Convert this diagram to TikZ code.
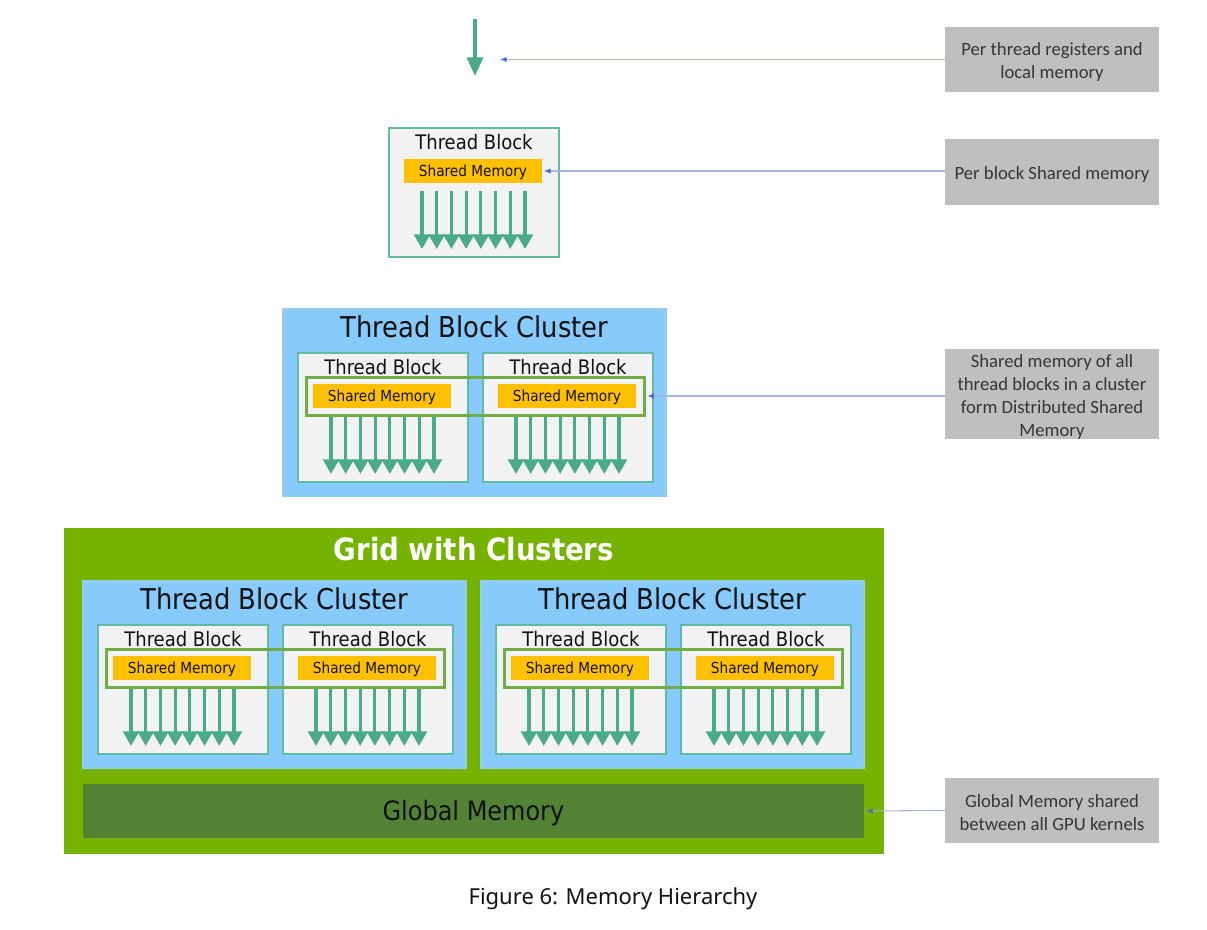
\documentclass[tikz,border=0pt]{standalone}
\usepackage{fontspec}
\setmainfont{DejaVu Sans Condensed}
\newfontfamily\calfont{Carlito}
\newfontfamily\capfont{Noto Sans}
\usetikzlibrary{arrows.meta,calc}
\newlength\pxu \setlength\pxu{0.75pt}
\newcommand\gtop{\rule{0pt}{13.5pt}}
\definecolor{gridgreen}{RGB}{118,178,0}
\definecolor{globalgreen}{RGB}{84,130,53}
\definecolor{clusterblue}{RGB}{135,202,252}
\definecolor{clusteredge}{RGB}{150,205,235}
\definecolor{tbfill}{RGB}{242,242,242}
\definecolor{tbedge}{RGB}{100,185,165}
\definecolor{smorange}{RGB}{255,192,0}
\definecolor{dsmgreen}{RGB}{112,173,71}
\definecolor{thrcol}{RGB}{73,170,140}
\definecolor{gboxfill}{RGB}{191,191,191}
\definecolor{connline}{RGB}{165,182,215}
\definecolor{connhead}{RGB}{68,114,196}
\definecolor{txt}{RGB}{17,17,17}
\tikzset{
  tblock/.style={draw=tbedge, line width=1pt, fill=tbfill, minimum width=170*\pxu,
    minimum height=129*\pxu, anchor=north west, inner sep=0pt, outer sep=0pt},
  tbtitle/.style={font=\fontsize{15}{17}\selectfont, text=txt, inner sep=0pt,
    text height=11pt, text depth=0pt},
  smem/.style={fill=smorange, anchor=north west, minimum width=138*\pxu,
    minimum height=24*\pxu, inner sep=0pt, outer sep=0pt, text=txt,
    font=\fontsize{11.4}{13}\selectfont, text height=8.3pt, text depth=0pt},
  thr/.style={draw=thrcol, line width=2.4pt, -{Triangle[width=11.8pt,length=11pt]}},
  bigthr/.style={draw=thrcol, line width=2.4pt, -{Triangle[width=12pt,length=14pt]}},
  clus/.style={draw=clusteredge, line width=0.8pt, fill=clusterblue, minimum width=383*\pxu,
    minimum height=187*\pxu, anchor=north west, inner sep=0pt, outer sep=0pt},
  cltitle/.style={font=\fontsize{21.5}{24}\selectfont, text=txt, inner sep=0pt,
    text height=15.7pt, text depth=0pt},
  dsm/.style={draw=dsmgreen, line width=2.25pt, minimum width=338*\pxu,
    minimum height=38*\pxu, anchor=north west, inner sep=0pt, outer sep=0pt},
  gridbox/.style={fill=gridgreen, minimum width=820*\pxu, minimum height=326*\pxu,
    anchor=north west, inner sep=0pt, outer sep=0pt},
  gridtitle/.style={font=\bfseries\fontsize{23}{26}\selectfont, text=white, inner sep=0pt,
    text height=16.8pt, text depth=0pt},
  gmem/.style={fill=globalgreen, minimum width=781*\pxu, minimum height=54*\pxu,
    inner sep=0pt, outer sep=0pt, text=txt, font=\fontsize{20}{23}\selectfont,
    text height=14.6pt, text depth=0pt},
  gbox/.style={fill=gboxfill, minimum width=214*\pxu, inner sep=0pt, outer sep=0pt,
    align=center, text=txt!85, font=\calfont\fontsize{14}{17.25}\selectfont},
  conn/.style={draw=connline, line width=0.8pt,
    -{Latex[length=5pt,width=4pt,color=connhead]}, shorten >=1.5pt},
  caption/.style={font=\capfont\fontsize{16.5}{19}\selectfont, text=txt, inner sep=0pt}
}
\newcommand\tblk[3]{%
  \node[tblock] (#1) at (#2,#3) {};
  \node[tbtitle] at ($(#1.north)+(0,14)$) {Thread Block};
  \node[smem] (#1-sm) at ($(#1.north west)+(15,31)$) {Shared Memory};
  \foreach \k in {0,...,7}{%
    \draw[thr] ($(#1.north west)+(33+\k*14.714,63)$) -- ++(0,58);}
}
\newcommand\tcluster[3]{%
  \node[clus] (#1) at (#2,#3) {};
  \node[cltitle] at ($(#1.north)+(0,18.5)$) {Thread Block Cluster};
  \tblk{#1-a}{#2+15}{#3+44}
  \tblk{#1-b}{#2+200}{#3+44}
  \node[dsm] (#1-dsm) at ($(#1-a.north west)+(8,24)$) {};
}
\begin{document}
\begin{tikzpicture}[x=0.75pt,y=-0.75pt]
\fill[white] (0,0) rectangle (1207,929);
\useasboundingbox (0,0) rectangle (1207,929);
% single thread
\coordinate (t1) at (475,19);
\coordinate (t2) at (475,76);
\draw[bigthr] (t1) -- (t2);
\coordinate (regpt) at (498,59.5);
% single thread block
\tblk{sb}{389}{128}
% single cluster
\tcluster{c1}{283}{309}
% grid
\node[gridbox] (g) at (64,528) {};
\node[gridtitle] at (474,549) {Grid with Clusters};
\tcluster{c2}{83}{581}
\tcluster{c3}{481}{581}
\node[gmem] (gm) at (473.5,811) {Global Memory};
% gray labels
\node[gbox, minimum height=65*\pxu] (n1) at (1052,59.5) {\gtop Per thread registers and\\local memory};
\node[gbox, minimum height=66*\pxu] (n2) at (1052,172) {\gtop Per block Shared memory};
\node[gbox, minimum height=90*\pxu] (n3) at (1052,394) {\gtop Shared memory of all\\thread blocks in a cluster\\form Distributed Shared\\Memory};
\node[gbox, minimum height=65*\pxu] (n4) at (1052,810.5) {\gtop Global Memory shared\\between all GPU kernels};
% connectors
\draw[conn] (n1.west) -- (regpt);
\draw[conn] (n2.west |- sb-sm.east) -- (sb-sm.east);
\draw[conn, shorten >=2.5pt] (n3.west |- c1-dsm.east) -- (c1-dsm.east);
\draw[conn] (n4.west) -- (gm.east);
% caption
\node[caption] (cap) at (613,899) {Figure 6: Memory Hierarchy};
\end{tikzpicture}
\end{document}
